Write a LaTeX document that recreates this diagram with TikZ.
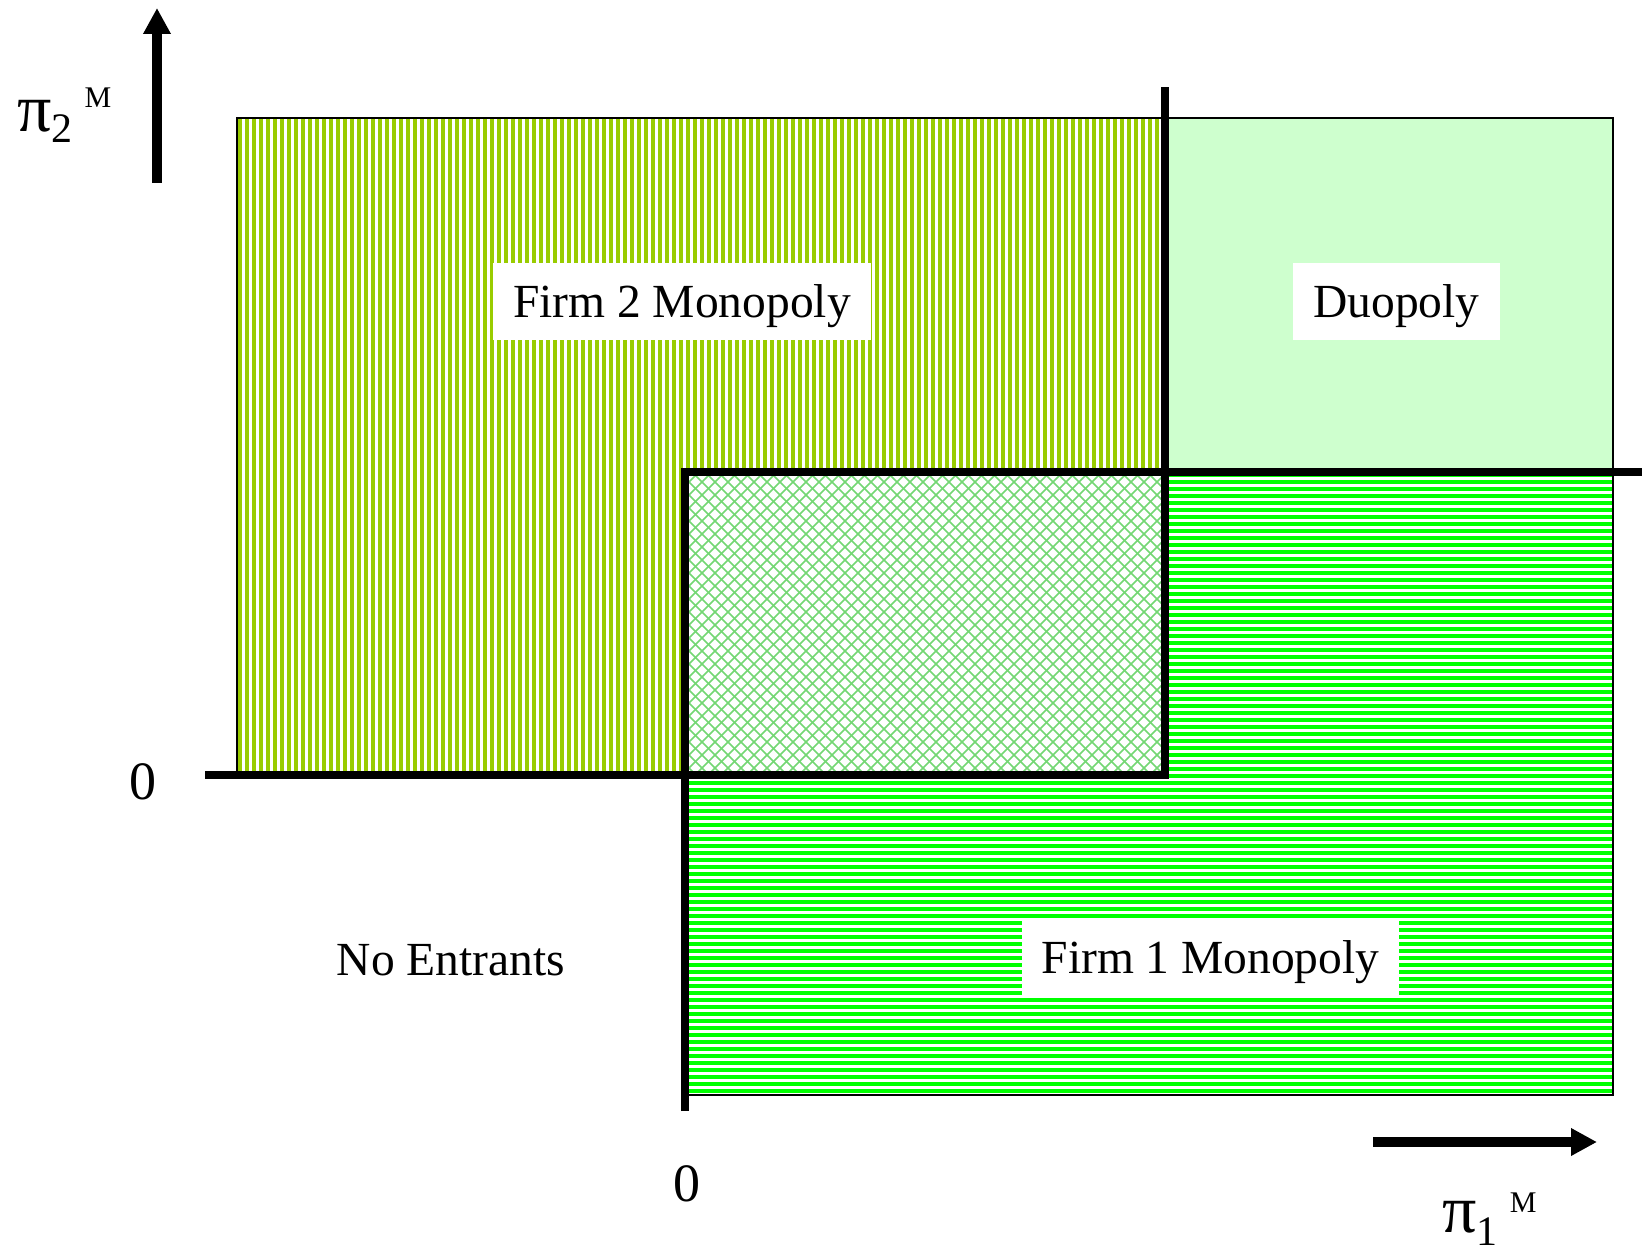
\documentclass[tikz,border=0pt]{standalone}
\usepackage{fontspec}
\setmainfont{Liberation Serif}
\usetikzlibrary{arrows.meta}
\definecolor{verdeamar}{RGB}{153,204,0}
\definecolor{verdeclaro}{RGB}{206,255,206}
\definecolor{verdevivo}{RGB}{0,255,0}
\definecolor{verdemalla}{RGB}{115,215,115}
\begin{document}
\begin{tikzpicture}[x=0.5pt,y=-0.5pt,
    borde/.style={line width=1pt},
    grueso/.style={line width=4pt},
    eje/.style={line width=4.75pt,-{Triangle[length=13pt,width=13pt]}},
    etiqueta/.style={fill=white,inner xsep=10pt,inner ysep=0pt,text height=27.5pt,text depth=11pt,font=\fontsize{23.75}{28}\selectfont},
    texto/.style={inner sep=0pt,font=\fontsize{23.75}{28}\selectfont},
    cero/.style={inner sep=0pt,anchor=base,font=\fontsize{27}{30}\selectfont}]
                \useasboundingbox (0,0) rectangle (1642,1251);
                \fill[verdeclaro] (1165,118) rectangle (1613,472); % duopolio
                \foreach \x in {240,247,...,1162}
                \draw[verdeamar,line width=1.75pt] (\x,118) -- (\x,775); % empresa 2
                \foreach \y in {475,482,...,1092}
                \draw[verdevivo,line width=1.75pt] (686,\y) -- (1613,\y); % empresa 1
                \fill[white] (686,472) rectangle (1165,775);
                \begin{scope}
                \clip (686,472) rectangle (1165,775);
                \foreach \k in {380,393,...,1170}
                \draw[verdemalla,line width=0.75pt] (\k,472) -- ++(303,303);
                \foreach \k in {686,699,...,1470}
                \draw[verdemalla,line width=0.75pt] (\k,472) -- ++(-303,303);
                \end{scope}
                \draw[borde] (237,775) -- (237,118) -- (1613,118) -- (1613,472);
                \draw[borde] (1613,472) -- (1613,1095) -- (686,1095);
                \node[etiqueta] (mono2) at (682,301.5) {Firm 2 Monopoly};
                \node[etiqueta] (duo) at (1396.5,301.5) {Duopoly};
                \node[etiqueta] (mono1) at (1210.5,957) {Firm 1 Monopoly};
                \node[texto,anchor=base] (nadie) at (451,975) {No Entrants};
                \draw[grueso] (205,775) -- (1165,775) -- (1165,87);
                \draw[grueso] (685,1111) -- (685,472) -- (1642,472);
                \draw[eje] (157,183) -- (157,8); % eje y
                \draw[eje] (1373,1142) -- (1597,1142); % eje x
                \node[inner sep=0pt,anchor=base west] (pidos) at (17,132) {{\fontsize{34}{36}\selectfont π}\raisebox{-5.5pt}{\fontsize{21}{21}\selectfont 2}\hspace{6pt}\raisebox{12pt}{\fontsize{15}{15}\selectfont M}};
                \node[inner sep=0pt,anchor=base west] (piuno) at (1442,1232) {{\fontsize{34}{36}\selectfont π}\raisebox{-6.5pt}{\fontsize{21}{21}\selectfont 1}\hspace{6pt}\raisebox{10pt}{\fontsize{15}{15}\selectfont M}};
                \node[cero] (ceroy) at (143,799) {0};
                \node[cero] (cerox) at (687,1201) {0};
\end{tikzpicture}
\end{document}
